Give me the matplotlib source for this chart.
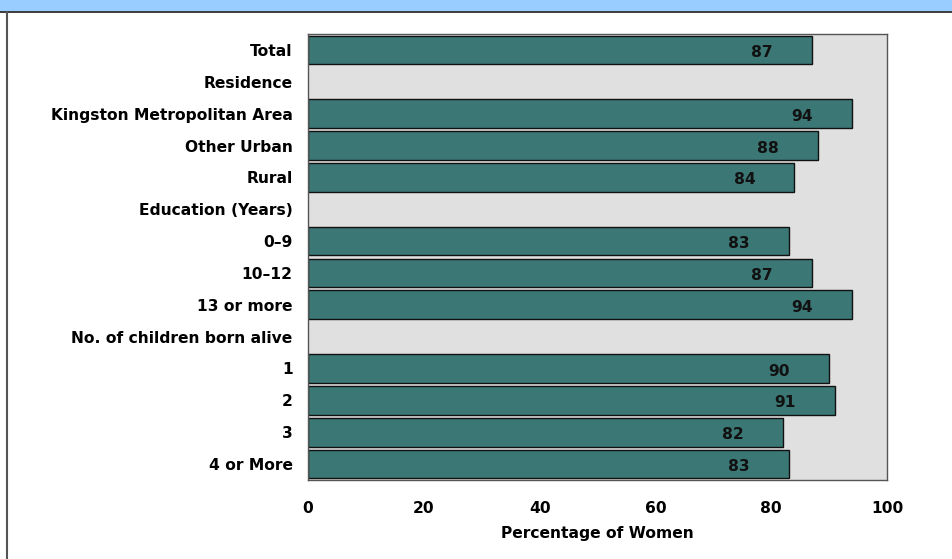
import matplotlib
matplotlib.use("Agg")
import matplotlib.pyplot as plt
from matplotlib.patches import Rectangle
from matplotlib.lines import Line2D

categories = ["Total", "Residence", "Kingston Metropolitan Area", "Other Urban",
              "Rural", "Education (Years)", "0\u20139", "10\u201312", "13 or more",
              "No. of children born alive", "1", "2", "3", "4 or More"]
values = [87, None, 94, 88, 84, None, 83, 87, 94, None, 90, 91, 82, 83]
x_ticks = [0, 20, 40, 60, 80, 100]

bar_color = "#3b7775"
bg_color = "#e0e0e0"

plt.rcParams["font.family"] = ["DejaVu Sans"]
fs = 11.2

fig = plt.figure(figsize=(9.52, 5.59), dpi=100)

# blue banner at the top + left border
fig.patches.append(Rectangle((0, 1 - 11 / 559), 1, 11 / 559, transform=fig.transFigure,
                             facecolor="#99ccff", edgecolor="none", zorder=0))
fig.lines.append(Line2D([0, 1], [1 - 11.5 / 559] * 2, transform=fig.transFigure,
                        color="#1a1a1a", lw=1.2))
fig.lines.append(Line2D([6.5 / 952] * 2, [0, 1 - 11.5 / 559], transform=fig.transFigure,
                        color="#555555", lw=1.5))

ax = fig.add_axes([308 / 952, 1 - 480 / 559, 579 / 952, 446 / 559])
ax.set_facecolor(bg_color)

n = len(categories)
for i, (cat, val) in enumerate(zip(categories, values)):
    if val is None:
        continue
    ax.barh(i, val, height=0.9, color=bar_color, edgecolor="#111111", linewidth=1)
    ax.text(val - 8.6, i + 0.08, str(val), ha="center", va="center",
            fontsize=fs, fontweight="bold", color="#111111")

ax.set_ylim(n - 0.5, -0.5)
ax.set_xlim(0, 100)
ax.set_yticks(range(n))
ax.set_yticklabels(categories, fontsize=fs, fontweight="bold")
ax.set_xticks(x_ticks)
ax.set_xticklabels([str(t) for t in x_ticks], fontsize=fs, fontweight="bold")
ax.tick_params(axis="y", length=0, pad=11)
ax.tick_params(axis="x", length=0, pad=15)
ax.set_xlabel("Percentage of Women", fontsize=fs, fontweight="bold", labelpad=7)

for side in ["top", "right", "bottom", "left"]:
    ax.spines[side].set_color("#555555")
    ax.spines[side].set_linewidth(1)

fig.savefig("out.png", dpi=100)
